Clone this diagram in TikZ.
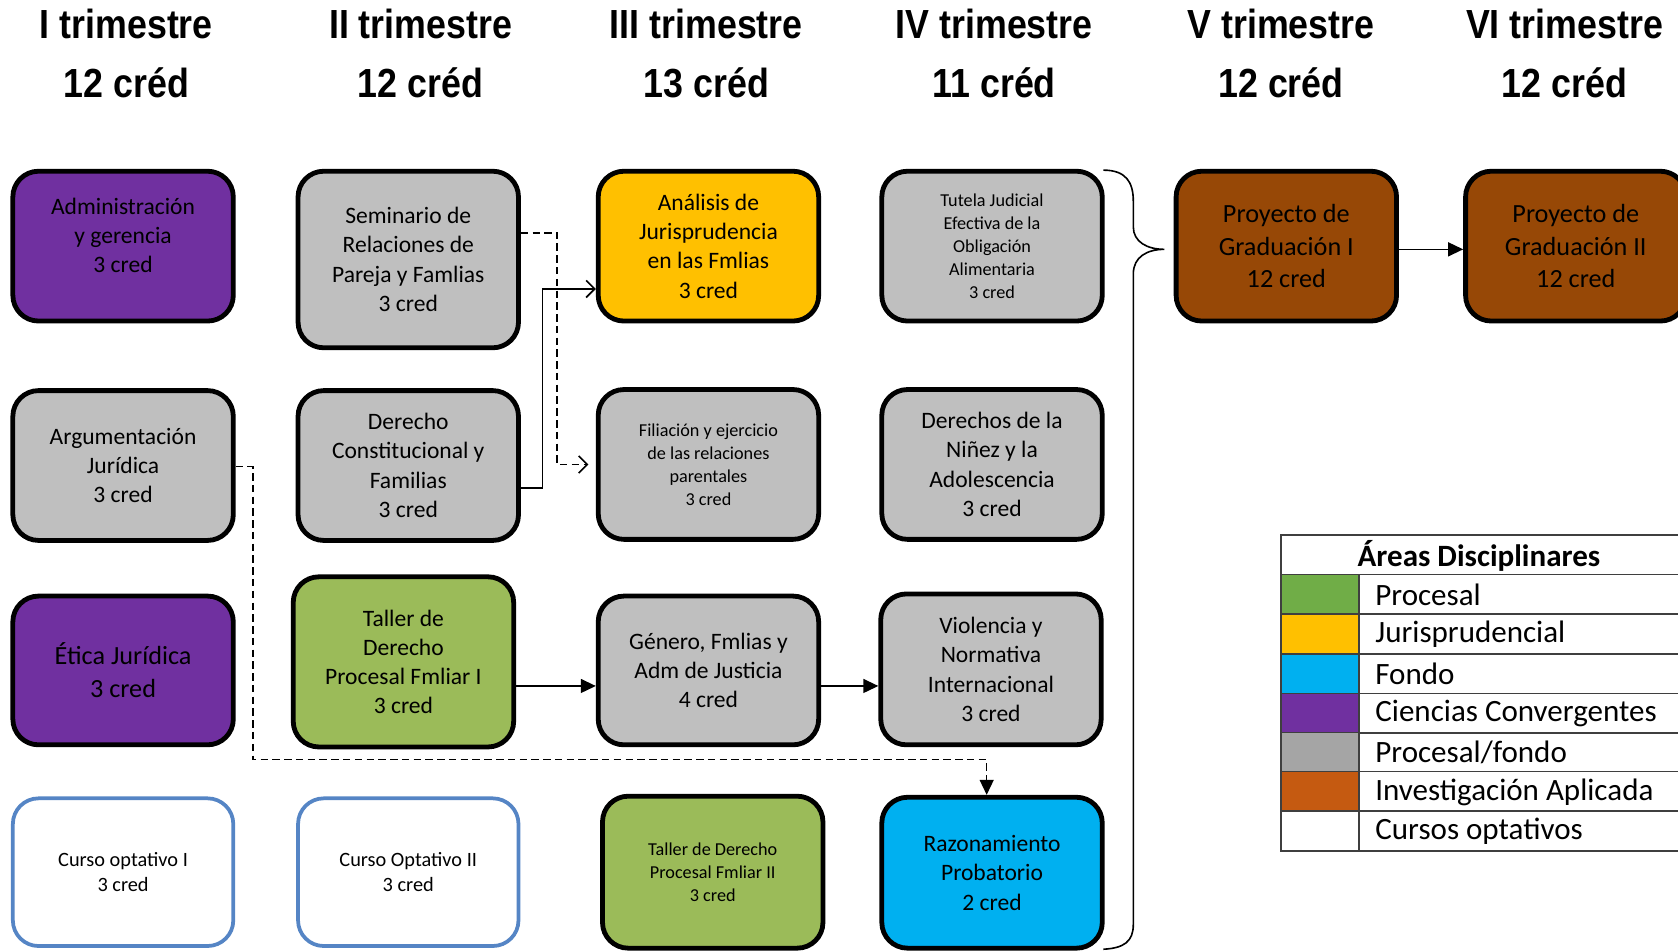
\documentclass[tikz,border=0pt]{standalone}
\usepackage{fontspec}
\setmainfont{Carlito}
\newfontfamily\hdrfont[FakeStretch=0.88]{Liberation Sans}
\usetikzlibrary{arrows.meta,calc}
\definecolor{cpurple}{HTML}{7030A0}
\definecolor{cgray}{HTML}{BFBFBF}
\definecolor{cyellow}{HTML}{FFC000}
\definecolor{cgreen}{HTML}{9BBB59}
\definecolor{cblue}{HTML}{00B0F0}
\definecolor{cbrown}{HTML}{974806}
\definecolor{coptb}{HTML}{5585C5}
\definecolor{lgreen}{HTML}{70AD47}
\definecolor{lgray}{HTML}{A5A5A5}
\definecolor{lbrown}{HTML}{C55A11}
\definecolor{lline}{HTML}{3F3F3F}
\begin{document}
\begin{tikzpicture}[x=1pt,y=-1pt,
  hdr/.style={font=\hdrfont\bfseries\fontsize{38}{40}\selectfont, inner sep=0pt},
  box/.style={draw=black, line width=4.5pt, rounded corners=24pt, minimum width=206pt,
    minimum height=140pt, inner sep=0pt, align=center, font=\fontsize{22}{27.4}\selectfont},
  small/.style={font=\fontsize{17}{21.6}\selectfont},
  big/.style={font=\fontsize{24.5}{30.5}\selectfont},
  optbox/.style={box, draw=coptb, line width=3.5pt, fill=white, font=\fontsize{19}{24}\selectfont},
  btxt/.style={inner sep=0pt, align=center, font=\fontsize{22}{27.4}\selectfont},
  arr/.style={line width=1.5pt, -{Triangle[length=14pt,width=13pt]}},
  oarr/.style={line width=1.5pt, -{Straight Barb[length=8pt,width=16pt]}},
  dsh/.style={dash pattern=on 7pt off 4pt},
  swatch/.style={draw=lline, line width=1.5pt, minimum width=73pt, minimum height=37pt, inner sep=0pt},
  lgtxt/.style={anchor=west, inner sep=0pt, font=\fontsize{29}{31}\selectfont},
  lghdr/.style={inner sep=0pt, font=\bfseries\fontsize{29}{31}\selectfont}
]
\useasboundingbox (0,0) rectangle (1568,888);

% headers
\node[hdr] (h1) at (118,22) {I trimestre};
\node[hdr] (h2) at (393,22) {II trimestre};
\node[hdr] (h3) at (660,22) {III trimestre};
\node[hdr] (h4) at (929,22) {IV trimestre};
\node[hdr] (h5) at (1197,22) {V trimestre};
\node[hdr] (h6) at (1462,22) {VI trimestre};
\node[hdr] (c1) at (118,77) {12 créd};
\node[hdr] (c2) at (393,77) {12 créd};
\node[hdr] (c3) at (660,77) {13 créd};
\node[hdr] (c4) at (929,77) {11 créd};
\node[hdr] (c5) at (1197,77) {12 créd};
\node[hdr] (c6) at (1462,77) {12 créd};

% column I
\node[box, fill=cpurple] (admin) at (115,230) {};
\node[btxt] (admint) at (115,220) {Administración\\y gerencia\\3 cred};
\node[box, fill=cgray] (argu) at (115,435) {Argumentación\\Jurídica\\3 cred};
\node[box, big, fill=cpurple, minimum height=139pt] (etica) at (115,626.5) {Ética Jurídica\\3 cred};
\node[optbox, minimum height=138pt] (opt1) at (115,815) {Curso optativo I\\3 cred};

% column II
\node[box, fill=cgray, minimum height=165pt] (semi) at (381.5,242.5) {Seminario de\\Relaciones de\\Pareja y Famlias\\3 cred};
\node[box, fill=cgray] (dcons) at (381.5,435) {Derecho\\Constitucional y\\Familias\\3 cred};
\node[box, fill=cgreen, minimum height=159pt] (tal1) at (377,618.5) {Taller de\\Derecho\\Procesal Fmliar I\\3 cred};
\node[optbox, minimum height=138pt] (opt2) at (381.5,815) {Curso Optativo II\\3 cred};

% column III
\node[box, fill=cyellow] (anal) at (662,230) {Análisis de\\Jurisprudencia\\en las Fmlias\\3 cred};
\node[box, small, fill=cgray] (fili) at (662,434) {Filiación y ejercicio\\de las relaciones\\parentales\\3 cred};
\node[box, fill=cgray, minimum height=139pt] (gene) at (662,626.5) {Género, Fmlias y\\Adm de Justicia\\4 cred};
\node[box, small, fill=cgreen, minimum height=142pt] (tal2) at (666,815) {Taller de Derecho\\Procesal Fmliar II\\3 cred};

% column IV
\node[box, small, fill=cgray] (tutela) at (927,230) {Tutela Judicial\\Efectiva de la\\Obligación\\Alimentaria\\3 cred};
\node[box, fill=cgray] (ninez) at (927,434) {Derechos de la\\Niñez y la\\Adolescencia\\3 cred};
\node[box, fill=cgray, minimum height=141pt] (viol) at (926,625.5) {Violencia y\\Normativa\\Internacional\\3 cred};
\node[box, fill=cblue, minimum height=141pt] (razon) at (927,815.5) {Razonamiento\\Probatorio\\2 cred};

% columns V, VI
\node[box, big, fill=cbrown] (proy1) at (1202,230) {Proyecto de\\Graduación I\\12 cred};
\node[box, big, fill=cbrown] (proy2) at (1472.5,230) {Proyecto de\\Graduación II\\12 cred};

% connectors
\draw[oarr, dsh, shorten >=7pt] ([yshift=25pt]semi.east) -- ++(34,0) |- (fili.west);
\draw[oarr] ([yshift=-21pt]dcons.east) -- ++(20,0) |- ([yshift=-40pt]anal.west);
\draw[arr, dsh] ([yshift=-1pt]argu.east) -- ++(16,0) |- ($(razon.north)+(-5,-33)$) -- ([xshift=-5pt]razon.north);
\draw[arr] ([yshift=-22.5pt]tal1.east) -- ([yshift=-14.5pt]gene.west);
\draw[arr] ([yshift=-14.5pt]gene.east) -- ([yshift=-15.5pt]viol.west);
\draw[arr] ([yshift=-3pt]proy1.east) -- ([yshift=-3pt]proy2.west);

% brace
\draw[line width=1.5pt] (1031,159) .. controls (1052,159) and (1059,170) .. (1059,188)
  -- (1059,212) .. controls (1059,226) and (1072,233) .. (1088,233)
  .. controls (1072,233) and (1059,240) .. (1059,256)
  -- (1059,864) .. controls (1059,880) and (1050,886) .. (1031,887);

% legend
\draw[lline, line width=1.5pt] (1197,500) rectangle (1580,795);
\foreach \yy in {537,574,611,648,685,721,758} \draw[lline, line width=1.5pt] (1197,\yy) -- (1580,\yy);
\draw[lline, line width=1.5pt] (1270,537) -- (1270,795);
\node[lghdr] (lh) at (1382,519) {Áreas Disciplinares};
\node[swatch, fill=lgreen] (s1) at (1233.5,555.5) {};
\node[swatch, fill=cyellow] (s2) at (1233.5,592.5) {};
\node[swatch, fill=cblue] (s3) at (1233.5,629.5) {};
\node[swatch, fill=cpurple] (s4) at (1233.5,666.5) {};
\node[swatch, fill=lgray] (s5) at (1233.5,703) {};
\node[swatch, fill=lbrown] (s6) at (1233.5,739.5) {};
\node[swatch, fill=white] (s7) at (1233.5,776.5) {};
\node[lgtxt] (t1) at (1285,556) {Procesal};
\node[lgtxt] (t2) at (1285,593) {Jurisprudencial};
\node[lgtxt] (t3) at (1285,630) {Fondo};
\node[lgtxt] (t4) at (1285,667) {Ciencias Convergentes};
\node[lgtxt] (t5) at (1285,703.5) {Procesal/fondo};
\node[lgtxt] (t6) at (1285,740) {Investigación Aplicada};
\node[lgtxt] (t7) at (1285,777) {Cursos optativos};
\end{tikzpicture}
\end{document}
